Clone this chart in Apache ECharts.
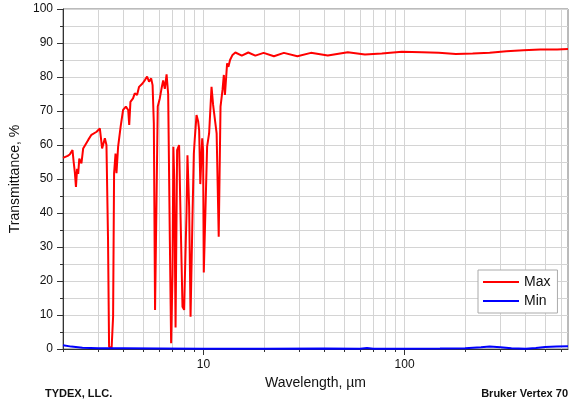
<!DOCTYPE html>
<html>
<head>
<meta charset="utf-8">
<script src="https://cdn.jsdelivr.net/npm/echarts@6/dist/echarts.min.js"></script>
<style>
  html, body { margin: 0; padding: 0; background: #fff; }
  #chart { width: 574px; height: 403px; }
</style>
</head>
<body>
<div id="chart"></div>
<script>
// wavelength (µm) and transmittance (%)
var maxWavelength = [2.0, 2.11, 2.16, 2.23, 2.26, 2.29, 2.32, 2.35, 2.38, 2.41,
  2.47, 2.52, 2.67, 2.77, 2.94, 3.05, 3.13, 3.23, 3.29, 3.35,
  3.39, 3.49, 3.55, 3.59, 3.65, 3.69, 3.76, 3.87, 3.98, 4.11,
  4.22, 4.27, 4.33, 4.46, 4.55, 4.67, 4.78, 4.97, 5.11, 5.24,
  5.36, 5.49, 5.58, 5.66, 5.74, 5.84, 5.92, 6.06, 6.20, 6.30,
  6.42, 6.55, 6.67, 6.80, 6.90, 7.01, 7.08, 7.15, 7.26, 7.39,
  7.56, 7.68, 7.86, 8.01, 8.07, 8.23, 8.32, 8.48, 8.62, 8.82,
  8.95, 9.05, 9.23, 9.40, 9.51, 9.64, 9.85, 9.95, 10.03, 10.23,
  10.42, 10.66, 10.96, 11.16, 11.40, 11.62, 11.90, 12.15, 12.43, 12.62,
  12.78, 13.10, 13.30, 13.55, 13.94, 14.40, 15.50, 16.70, 18.10, 19.90,
  22.4, 25.1, 29.3, 34.2, 41.5, 52.2, 63.5, 77, 97, 122,
  148, 180, 218, 265, 321, 390, 473, 574, 650];
var maxTransmittance = [56.2, 56.8, 57.2, 58.5, 55.0, 52.0, 47.7, 53.0, 51.5, 56.0,
  54.6, 59.0, 61.5, 63.0, 63.9, 64.9, 59.0, 62.0, 60.0, 32.0,
  0.7, 0.2, 9.5, 51.7, 57.5, 51.7, 59.5, 65.4, 70.3, 71.3,
  70.3, 65.9, 72.7, 73.7, 75.2, 74.7, 77.1, 78.1, 79.1, 80.1,
  78.6, 79.6, 77.6, 66.4, 11.5, 45.0, 71.3, 73.7, 77.0, 79.0,
  76.5, 80.8, 75.0, 32.0, 1.7, 22.0, 59.5, 50.0, 6.3, 58.5,
  60.0, 40.0, 12.4, 11.5, 20.0, 40.0, 57.0, 41.9, 9.5, 40.0,
  57.5, 62.0, 68.8, 67.0, 64.4, 48.5, 62.0, 58.5, 22.5, 23.0,
  59.5, 63.4, 77.1, 71.8, 71.5, 63.4, 33.0, 71.3, 76.2, 80.6,
  74.7, 84.0, 83.0, 85.0, 86.5, 87.2, 86.3, 87.2, 86.3, 87.1,
  86.1, 87.1, 86.1, 87.1, 86.3, 87.3, 86.6, 86.9, 87.4, 87.3,
  87.1, 86.8, 86.9, 87.1, 87.6, 87.9, 88.1, 88.1, 88.2];

var minWavelength = [2.0, 2.2, 2.5, 3, 4, 6, 10, 20, 40, 60, 65, 70, 100, 150, 200, 240, 265, 300, 340, 400, 450, 500, 570, 650];
var minTransmittance = [1.1, 0.7, 0.4, 0.25, 0.2, 0.15, 0.1, 0.1, 0.15, 0.1, 0.3, 0.1, 0.1, 0.15, 0.2, 0.5, 0.7, 0.5, 0.2, 0.1, 0.3, 0.6, 0.7, 0.8];

// x ticks / grid at 2..9 of every decade, labels at decades
var xTickValues = [2, 3, 4, 5, 6, 7, 8, 9, 10, 20, 30, 40, 50, 60, 70, 80, 90, 100, 200, 300, 400, 500, 600];
var xLabelValues = [10, 100];

function zip(a, b) {
  var out = [];
  for (var i = 0; i < a.length; i++) out.push([a[i], b[i]]);
  return out;
}

var myChart = echarts.init(document.getElementById('chart'));
var font = 'Liberation Sans, Arial, sans-serif';
var gridColor = '#d4d4d4';

var option = {
  animation: false,
  textStyle: { fontFamily: font },
  grid: {
    left: 63, right: 6, top: 9, bottom: 54,
    show: true, borderColor: '#777', borderWidth: 1
  },
  legend: {
    orient: 'vertical',
    left: 478, top: 270,
    padding: [5, 7, 5, 5],
    icon: 'rect',
    itemWidth: 36, itemHeight: 2, itemGap: 5,
    backgroundColor: '#fff',
    borderColor: '#aaa', borderWidth: 1,
    textStyle: { fontSize: 14, lineHeight: 14, color: '#111', fontFamily: font },
    data: ['Max', 'Min']
  },
  xAxis: [
    {
      type: 'log', logBase: 10, min: 2, max: 650,
      name: 'Wavelength, \u00b5m', nameLocation: 'middle', nameGap: 26,
      nameTextStyle: { fontSize: 14, color: '#111' },
      axisLine: { lineStyle: { color: '#333' } },
      axisTick: { customValues: xTickValues, length: 3, lineStyle: { color: '#333' } },
      axisLabel: { customValues: xLabelValues, margin: 10, fontSize: 12, color: '#111' },
      splitLine: { show: true, lineStyle: { color: gridColor, width: 1 } },
      minorTick: { show: false }
    },
    {
      type: 'log', logBase: 10, min: 2, max: 650, position: 'bottom',
      axisLine: { show: false },
      axisTick: { customValues: xLabelValues, length: 6, lineStyle: { color: '#333' } },
      axisLabel: { show: false },
      splitLine: { show: false }
    }
  ],
  yAxis: {
    type: 'value', min: 0, max: 100, interval: 10,
    name: 'Transmittance, %', nameLocation: 'middle', nameGap: 38,
    nameTextStyle: { fontSize: 14, color: '#111' },
    axisLine: { show: true, lineStyle: { color: '#333' } },
    axisTick: { show: true, length: 6, lineStyle: { color: '#333' } },
    axisLabel: { margin: 10, fontSize: 12, color: '#111' },
    splitLine: { show: true, lineStyle: { color: gridColor, width: 1 } },
    minorTick: { show: true, splitNumber: 2, length: 3, lineStyle: { color: '#333' } },
    minorSplitLine: { show: true, lineStyle: { color: gridColor, width: 1 } }
  },
  graphic: [
    { type: 'text', left: 45, top: 388, style: { text: 'TYDEX, LLC.', font: 'bold 11px ' + font, fill: '#111' } },
    { type: 'text', right: 6, top: 388, style: { text: 'Bruker Vertex 70', font: 'bold 11px ' + font, fill: '#111' } }
  ],
  series: [
    {
      name: 'Max', type: 'line', symbol: 'none',
      lineStyle: { color: '#ff0000', width: 2 },
      itemStyle: { color: '#ff0000' },
      data: zip(maxWavelength, maxTransmittance)
    },
    {
      name: 'Min', type: 'line', symbol: 'none',
      lineStyle: { color: '#0000ff', width: 2 },
      itemStyle: { color: '#0000ff' },
      data: zip(minWavelength, minTransmittance)
    }
  ]
};

myChart.setOption(option);
</script>
</body>
</html>
